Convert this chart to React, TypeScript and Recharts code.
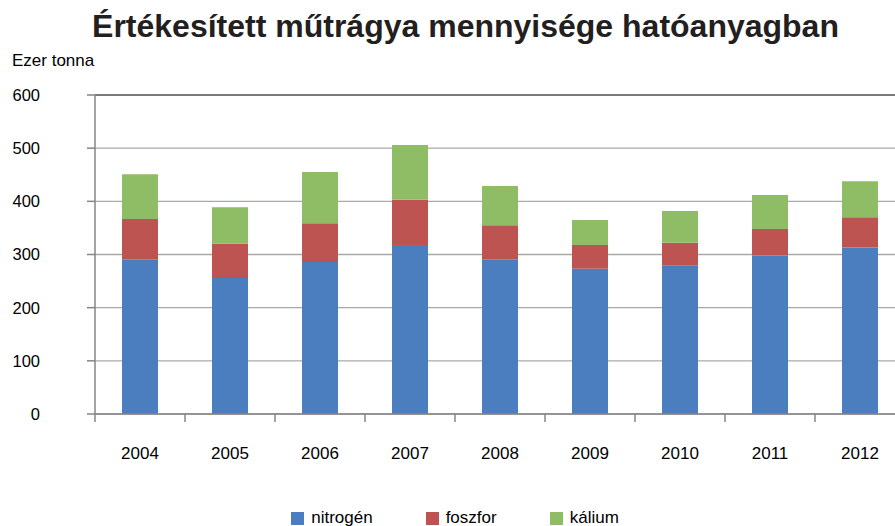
import React from 'react';
import { BarChart, Bar, XAxis, YAxis, CartesianGrid, ReferenceLine } from 'recharts';

const years = ['2004', '2005', '2006', '2007', '2008', '2009', '2010', '2011', '2012'];
const nitrogen = [290, 256, 286, 318, 290, 273, 280, 298, 313];
const phosphorus = [77, 64, 73, 85, 65, 45, 42, 50, 57];
const potassium = [84, 69, 96, 103, 74, 47, 60, 64, 68];
const yTicks = [0, 100, 200, 300, 400, 500, 600];

const series = [
  { key: 'nitrogen', name: 'nitrogén', color: '#4A7EBF' },
  { key: 'phosphorus', name: 'foszfor', color: '#BE5451' },
  { key: 'potassium', name: 'kálium', color: '#8FBD66' },
];

const data = years.map((year, i) => ({
  year,
  nitrogen: nitrogen[i],
  phosphorus: phosphorus[i],
  potassium: potassium[i],
}));

const W = 910;
const H = 526;
const margin = { top: 95, right: 5, bottom: 62, left: 0 };
const yAxisWidth = 95;
const band = (W - margin.left - margin.right - yAxisWidth) / years.length;
const font = '"Liberation Sans", Arial, sans-serif';
const axisColor = '#868686';

function YearTick(props: any) {
  const { x, y, payload } = props;
  return (
    <g>
      <line x1={x - band / 2} x2={x - band / 2} y1={y} y2={y + 8} stroke={axisColor} strokeWidth={1.5} />
      <text x={x} y={y + 39} textAnchor="middle" dominantBaseline="central" fontSize={17} fill="#000" fontFamily={font}>
        {payload.value}
      </text>
    </g>
  );
}

export default function App() {
  return (
    <div style={{ position: 'fixed', left: 0, top: 0, width: 895, height: 526, overflow: 'hidden', background: '#fff', fontFamily: font }}>
      <div style={{ position: 'absolute', left: 0, top: 8, width: 931, textAlign: 'center', fontSize: 32, fontWeight: 'bold', color: '#231f20', lineHeight: '36px' }}>
        Értékesített műtrágya mennyisége hatóanyagban
      </div>
      <div style={{ position: 'absolute', left: 12, top: 51, fontSize: 17, color: '#000', lineHeight: '20px' }}>Ezer tonna</div>
      <BarChart width={W} height={H} data={data} margin={margin} barSize={36}>
        <CartesianGrid vertical={false} stroke="#a9a9a9" strokeWidth={1.4} />
        <XAxis
          dataKey="year"
          tick={<YearTick />}
          tickLine={false}
          tickSize={0}
          tickMargin={0}
          height={50}
          stroke={axisColor}
          strokeWidth={1.5}
          interval={0}
        />
        <YAxis
          domain={[0, 600]}
          ticks={yTicks}
          width={yAxisWidth}
          tickSize={8}
          tickMargin={47}
          stroke={axisColor}
          strokeWidth={1.5}
          tick={{ fontSize: 16.5, fill: '#000', fontFamily: font }}
        />
        <ReferenceLine y={600} stroke="#7a7a7a" strokeWidth={1.8} />
        {series.map(s => (
          <Bar key={s.key} dataKey={s.key} name={s.name} stackId="a" fill={s.color} isAnimationActive={false} />
        ))}
      </BarChart>
      <div style={{ position: 'absolute', left: 0, top: 508, width: W, display: 'flex', justifyContent: 'center', fontSize: 17, lineHeight: '20px', color: '#000' }}>
        {series.map((s, i) => (
          <div key={s.key} style={{ display: 'flex', alignItems: 'center', marginLeft: i === 0 ? 0 : 53 }}>
            <span style={{ display: 'inline-block', width: 13, height: 13, background: s.color, marginRight: 7 }} />
            <span>{s.name}</span>
          </div>
        ))}
      </div>
    </div>
  );
}
